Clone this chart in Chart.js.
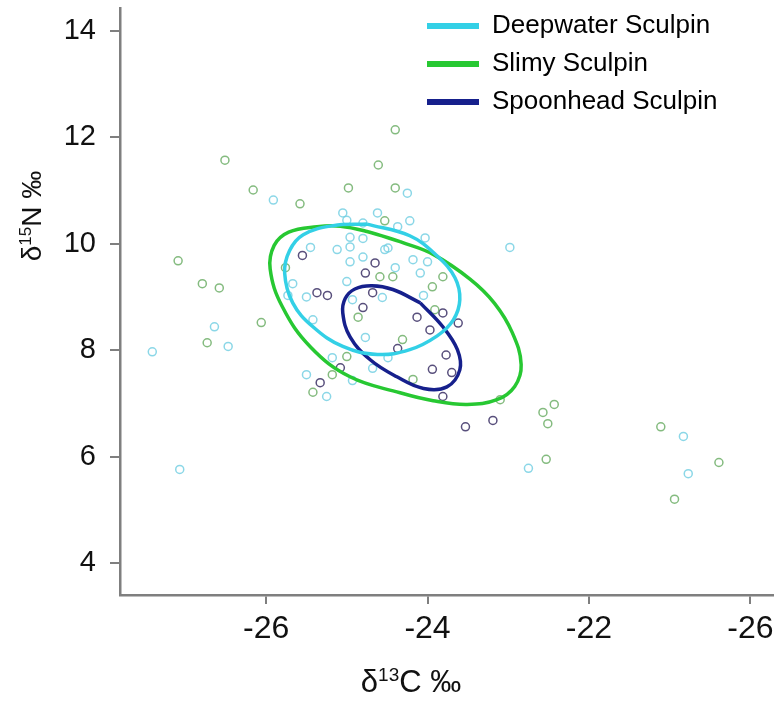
<!DOCTYPE html>
<html>
<head>
<meta charset="utf-8">
<script src="https://cdn.jsdelivr.net/npm/chart.js@4"></script>
<style>
body { margin: 0; background: #ffffff; }
#wrap { width: 780px; height: 705px; }
</style>
</head>
<body>
<div id="wrap"><canvas id="chart"></canvas></div>
<script>
// DATA
var speciesNames = ['Deepwater Sculpin', 'Slimy Sculpin', 'Spoonhead Sculpin'];

// raw isotope values, one dot per fish
var deepX = [-24.25, -25.91, -25.05, -24.62, -25.00, -24.80, -24.22, -24.37, -25.45, -25.12,
             -24.96, -24.96, -24.80, -24.53, -24.40, -24.09, -24.03, -24.18, -24.96, -24.80,
             -24.49, -24.00, -25.67, -25.73, -25.50, -25.00, -24.56, -24.93, -24.05, -25.42,
             -24.77, -24.49, -25.18, -24.93, -24.68, -25.50, -25.25, -26.64, -26.47, -27.41,
             -27.07, -22.98, -22.75, -20.83, -20.77];
var deepY = [10.95, 10.82, 10.58, 10.58, 10.44, 10.39, 10.43, 10.32, 9.93, 9.89,
             9.94, 9.66, 9.75, 9.89, 9.55, 9.45, 10.11, 9.70, 10.12, 10.10,
             9.92, 9.66, 9.25, 9.03, 9.00, 9.29, 8.99, 8.95, 9.03, 8.57,
             8.24, 7.86, 7.86, 7.43, 7.66, 7.54, 7.13, 8.44, 8.07, 7.97,
             5.76, 9.93, 5.78, 6.38, 5.68];

var slimyX = [-24.40, -26.51, -24.61, -26.16, -24.98, -24.40, -25.58, -24.53, -27.09, -26.79,
              -26.58, -24.59, -24.43, -23.94, -23.81, -25.76, -26.06, -26.73, -24.86, -23.91,
              -24.31, -25.00, -25.18, -25.42, -24.18, -23.10, -22.57, -22.43, -22.51, -22.53,
              -21.11, -20.39, -20.94];
var slimyY = [12.14, 11.57, 11.48, 11.01, 11.05, 11.05, 10.75, 10.43, 9.68, 9.25,
              9.17, 9.38, 9.38, 9.19, 9.38, 9.55, 8.52, 8.14, 8.62, 8.76,
              8.20, 7.88, 7.54, 7.21, 7.45, 7.07, 6.83, 6.98, 6.62, 5.95,
              6.56, 5.89, 5.20];

var spoonX = [-25.55, -24.65, -24.77, -25.37, -25.24, -24.68, -24.80, -24.13, -23.97, -23.81,
              -23.62, -24.37, -23.77, -23.94, -23.70, -25.08, -25.33, -23.81, -23.53, -23.19];
var spoonY = [9.78, 9.64, 9.45, 9.08, 9.03, 9.08, 8.80, 8.62, 8.38, 8.70,
              8.51, 8.03, 7.91, 7.64, 7.58, 7.67, 7.39, 7.13, 6.56, 6.68];

// ellipse outlines (start on a flat side)
var deepEllX = [-24.75, -24.22, -23.88, -23.66, -23.60, -23.68, -23.88, -24.22, -24.62, -25.05,
                -25.42, -25.67, -25.77, -25.71, -25.54, -25.17];
var deepEllY = [10.37, 10.15, 9.77, 9.36, 8.95, 8.57, 8.27, 8.01, 7.92, 8.07,
                8.44, 8.89, 9.45, 9.87, 10.17, 10.34];

var slimyEllX = [-24.34, -23.93, -23.47, -23.17, -22.95, -22.84, -22.92, -23.14, -23.51, -23.93,
                 -24.34, -24.96, -25.45, -25.80, -25.95, -25.90, -25.72, -25.37, -25.08, -24.75];
var slimyEllY = [10.04, 9.80, 9.33, 8.88, 8.33, 7.73, 7.32, 7.07, 6.98, 7.05,
                 7.20, 7.50, 8.06, 8.82, 9.53, 9.97, 10.22, 10.32, 10.33, 10.23];

var spoonEllX = [-24.09, -23.81, -23.63, -23.60, -23.76, -24.05, -24.38, -24.71, -24.96, -25.05,
                 -25.02, -24.90, -24.69, -24.43];
var spoonEllY = [8.89, 8.44, 8.01, 7.63, 7.31, 7.28, 7.50, 7.82, 8.25, 8.70,
                 8.97, 9.15, 9.21, 9.14];

var xTicks = [-26, -24, -22, -20];
var xTickLabels = ['-26', '-24', '-22', '-26'];
var yTicks = [4, 6, 8, 10, 12, 14];

var lineColors = ['#33d0e6', '#27c832', '#16208c'];
var dotColors = ['rgba(110,205,225,0.8)', 'rgba(110,175,105,0.85)', 'rgba(70,60,110,0.9)'];

var FONT = 'Liberation Sans';
var axisGray = '#7f7f7f';

//HELPERS
function pts(xs, ys) {
    return xs.map(function(x, i) { return {x: x, y: ys[i]}; });
}

function ring(xs, ys) {
    var p = pts(xs, ys);
    p.push(p[0]);
    return p;
}

function ellipseSet(i, xs, ys) {
    return {
        label: speciesNames[i],
        data: ring(xs, ys),
        showLine: true,
        borderColor: lineColors[i],
        borderWidth: 3.5,
        pointRadius: 0,
        tension: 0.4,
        fill: false,
        order: 0
    };
}

function dotSet(i, xs, ys) {
    return {
        label: speciesNames[i] + ' points',
        data: pts(xs, ys),
        pointStyle: 'circle',
        pointRadius: 4,
        pointBorderWidth: 1.5,
        borderColor: dotColors[i],
        backgroundColor: 'rgba(0,0,0,0)',
        order: 1
    };
}

// title pieces, sup = superscript
var xTitleParts = [{t: 'δ'}, {t: '13', sup: true}, {t: 'C ‰'}];
var yTitleParts = [{t: 'δ'}, {t: '15', sup: true}, {t: 'N ‰'}];

function drawParts(ctx, parts, cx, baseY, size) {
    var widths = parts.map(function(p) {
        ctx.font = (p.sup ? Math.round(size * 0.6) : size) + 'px "' + FONT + '"';
        return ctx.measureText(p.t).width;
    });
    var total = widths.reduce(function(a, b) { return a + b; }, 0);
    var x = cx - total / 2;
    ctx.textAlign = 'left';
    ctx.textBaseline = 'alphabetic';
    parts.forEach(function(p, i) {
        ctx.font = (p.sup ? Math.round(size * 0.6) : size) + 'px "' + FONT + '"';
        ctx.fillText(p.t, x, p.sup ? baseY - size * 0.36 : baseY);
        x += widths[i];
    });
}

var axisTitles = {
    id: 'axisTitles',
    afterDraw: function(chart) {
        var ctx = chart.ctx, a = chart.chartArea;
        ctx.save();
        ctx.fillStyle = '#111111';
        drawParts(ctx, xTitleParts, a.left + 291, 692, 31);
        ctx.translate(41, a.top + 208);
        ctx.rotate(-Math.PI / 2);
        drawParts(ctx, yTitleParts, 0, 0, 28);
        ctx.restore();
    }
};

// move the legend to the top right corner of the plot
var legendSpot = {
    id: 'legendSpot',
    afterLayout: function(chart) {
        var lg = chart.legend, a = chart.chartArea;
        lg.left = a.left + 295;
        lg.top = a.top - 7;
        lg.right = chart.width;
        lg.bottom = lg.top + 150;
    }
};

function noPad(s) {
    s.paddingTop = 0;
    s.paddingBottom = 0;
    s.paddingLeft = 0;
    s.paddingRight = 0;
}

//CHART
var chart = new Chart(document.getElementById('chart'), {
    type: 'scatter',
    data: {
        datasets: [
            ellipseSet(0, deepEllX, deepEllY),
            ellipseSet(1, slimyEllX, slimyEllY),
            ellipseSet(2, spoonEllX, spoonEllY),
            dotSet(0, deepX, deepY),
            dotSet(1, slimyX, slimyY),
            dotSet(2, spoonX, spoonY)
        ]
    },
    options: {
        responsive: true,
        maintainAspectRatio: false,
        animation: false,
        layout: { padding: { top: 8, right: 7, left: 0, bottom: 0 } },
        plugins: {
            tooltip: { enabled: false },
            legend: {
                position: 'chartArea',
                align: 'start',
                labels: {
                    boxWidth: 52,
                    boxHeight: 6,
                    padding: 12,
                    color: '#111111',
                    font: { family: FONT, size: 26 },
                    generateLabels: function() {
                        return speciesNames.map(function(name, i) {
                            return {
                                text: name,
                                fillStyle: lineColors[i],
                                strokeStyle: lineColors[i],
                                lineWidth: 0,
                                hidden: false,
                                datasetIndex: i
                            };
                        });
                    }
                }
            }
        },
        scales: {
            x: {
                type: 'linear',
                min: -27.81,
                max: -19.72,
                border: { display: true, color: axisGray, width: 2.5 },
                grid: { drawOnChartArea: false, drawTicks: true, tickLength: 9, color: axisGray, lineWidth: 2 },
                ticks: {
                    color: '#111111',
                    font: { family: FONT, size: 32 },
                    padding: 6,
                    maxRotation: 0,
                    callback: function(v) {
                        var i = xTicks.indexOf(v);
                        return i < 0 ? '' : xTickLabels[i];
                    }
                },
                afterBuildTicks: function(s) {
                    s.ticks = xTicks.map(function(v) { return {value: v}; });
                },
                afterFit: function(s) { s.height = 110; noPad(s); }
            },
            y: {
                type: 'linear',
                min: 3.4,
                max: 14.43,
                border: { display: true, color: axisGray, width: 2.5 },
                grid: { drawOnChartArea: false, drawTicks: true, tickLength: 10, color: axisGray, lineWidth: 2 },
                ticks: {
                    color: '#111111',
                    font: { family: FONT, size: 29 },
                    padding: 14,
                    callback: function(v) { return String(v); }
                },
                afterBuildTicks: function(s) {
                    s.ticks = yTicks.map(function(v) { return {value: v}; });
                },
                afterFit: function(s) { s.width = 120; noPad(s); }
            }
        }
    },
    plugins: [axisTitles, legendSpot]
});
</script>
</body>
</html>
